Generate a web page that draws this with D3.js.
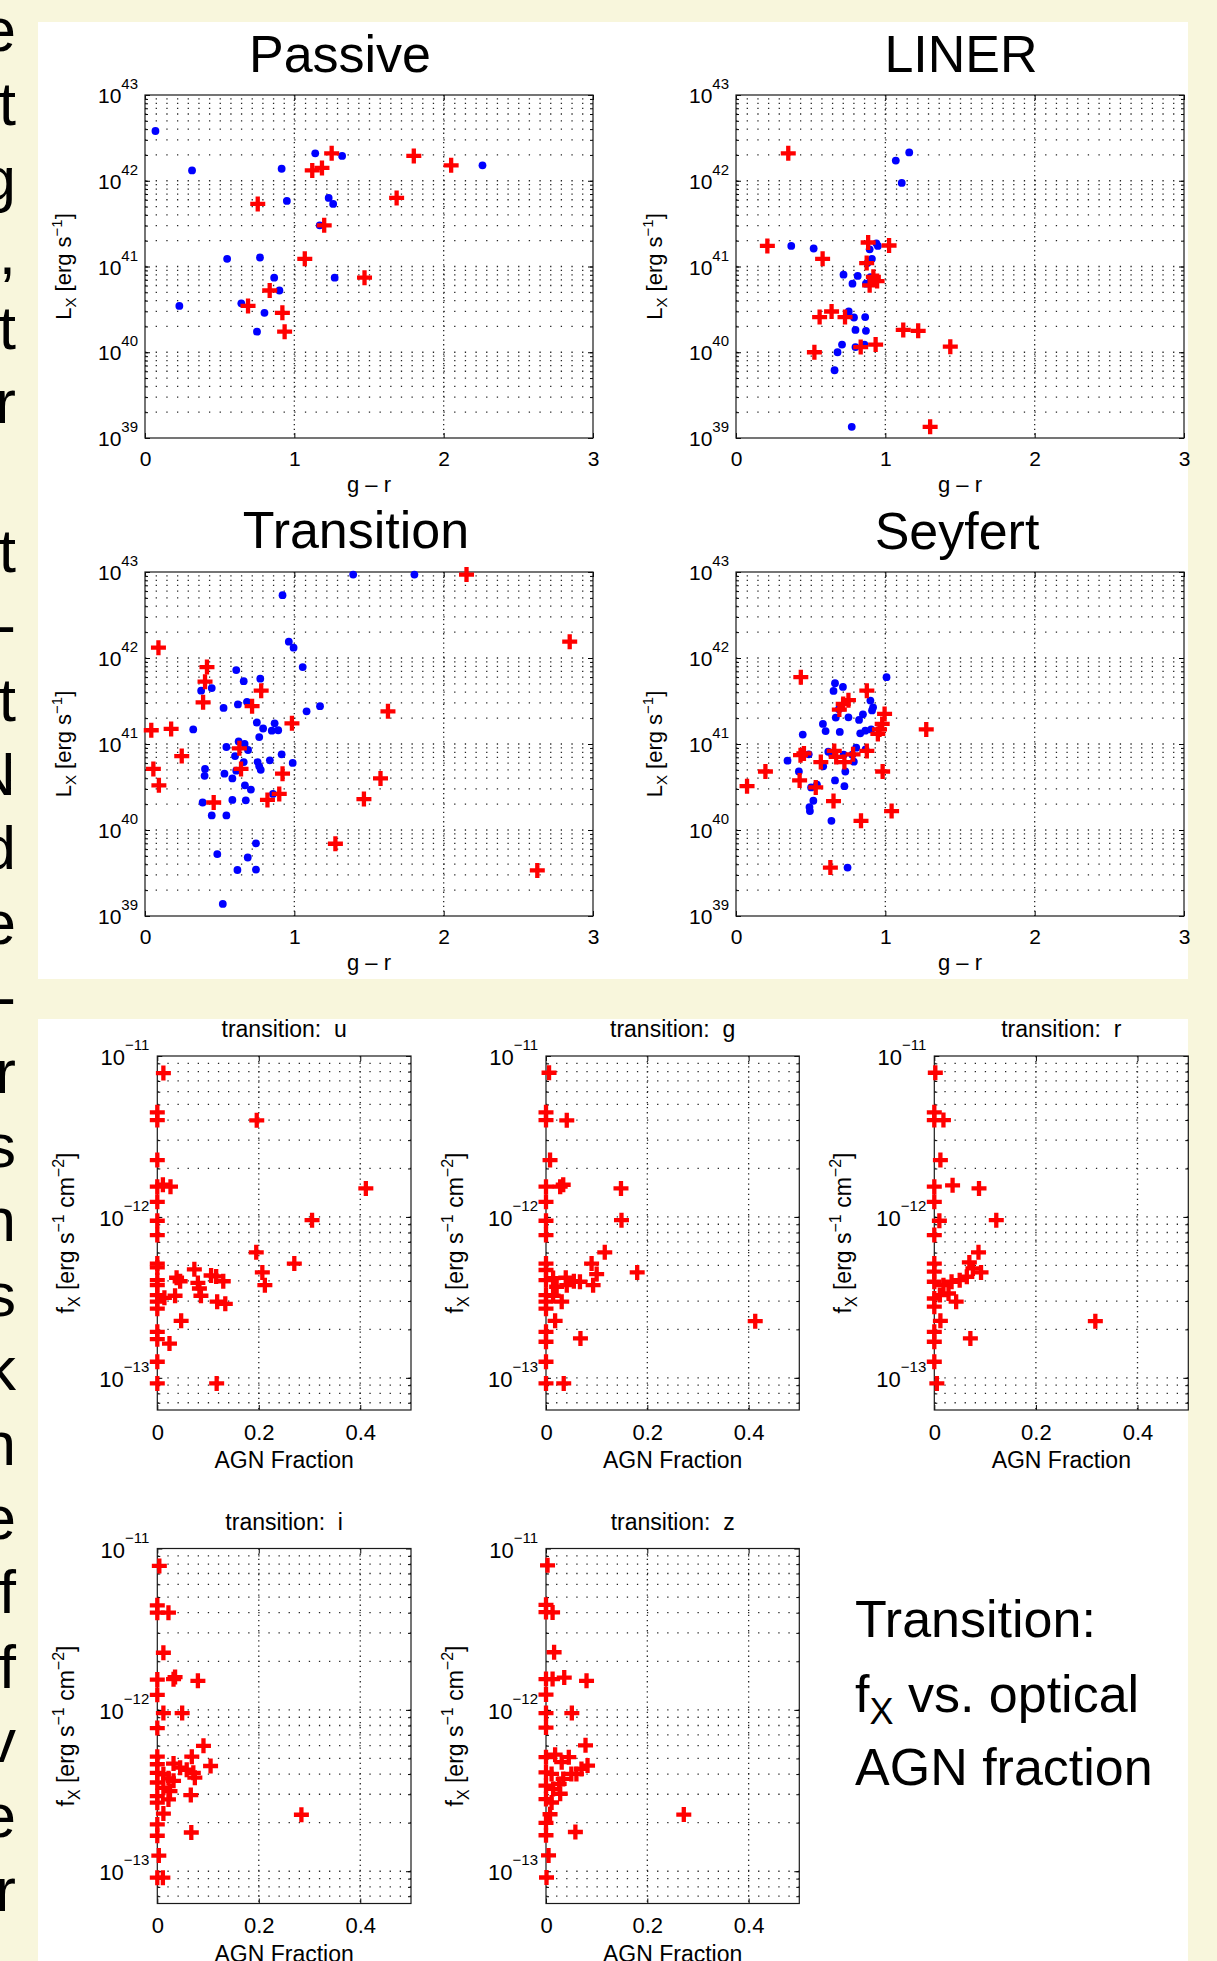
<!DOCTYPE html>
<html><head><meta charset="utf-8">
<script src="https://cdn.jsdelivr.net/npm/d3@7"></script>
<style>
html,body{margin:0;padding:0;background:#f8f6dc;}
svg{display:block;}
text{font-family:"Liberation Sans",Arial,Helvetica,sans-serif;fill:#000;}
</style></head><body><svg id="c" width="1217" height="1961"></svg>
<script>
// ---------------- DATA ----------------
// top panels: [g - r colour, log10 L_X (erg/s)]
const passiveBlue = [[0.07,42.58],[0.315,42.12],[0.915,42.14],[1.14,42.32],[1.32,42.29],[2.26,42.18],[0.95,41.765],[1.23,41.80],[1.26,41.73],[1.17,41.48],[0.55,41.09],[0.77,41.105],[0.865,40.87],[1.27,40.87],[0.90,40.72],[0.23,40.54],[0.645,40.57],[0.80,40.46],[0.75,40.24]];
const passiveRed = [[1.25,42.32],[1.12,42.12],[1.185,42.15],[1.80,42.29],[2.05,42.18],[0.755,41.73],[1.685,41.80],[1.20,41.48],[1.07,41.09],[1.47,40.87],[0.835,40.72],[0.69,40.54],[0.92,40.46],[0.935,40.24]];
const linerBlue = [[1.16,42.33],[1.07,42.235],[1.11,41.975],[0.37,41.24],[0.52,41.21],[0.94,41.27],[0.95,41.24],[0.895,41.20],[0.91,41.09],[0.88,41.04],[0.72,40.905],[0.815,40.89],[0.90,40.875],[0.78,40.80],[0.87,40.80],[0.755,40.475],[0.79,40.405],[0.865,40.41],[0.80,40.26],[0.87,40.25],[0.71,40.09],[0.86,40.09],[0.80,40.06],[0.68,40.00],[0.66,39.79],[0.775,39.13]];
const linerRed = [[0.35,42.32],[0.21,41.24],[0.885,41.28],[1.025,41.245],[0.58,41.09],[0.875,41.04],[0.92,40.88],[0.945,40.83],[0.895,40.78],[0.64,40.475],[0.56,40.41],[0.73,40.41],[1.12,40.26],[1.22,40.25],[0.835,40.06],[0.935,40.09],[0.525,40.00],[1.435,40.065],[1.30,39.13]];
const transBlue = [[1.394,42.97],[1.804,42.97],[0.921,42.73],[0.963,42.19],[0.995,42.12],[1.056,41.895],[0.611,41.86],[0.661,41.73],[0.772,41.76],[0.376,41.62],[0.447,41.65],[0.622,41.46],[0.683,41.49],[0.526,41.42],[1.082,41.38],[1.172,41.44],[0.749,41.25],[0.868,41.24],[0.791,41.18],[0.849,41.155],[0.892,41.16],[0.323,41.17],[0.765,41.08],[0.545,40.965],[0.627,41.03],[0.667,41.00],[0.69,40.93],[0.603,40.86],[0.915,40.88],[0.661,40.79],[0.754,40.79],[0.836,40.81],[0.989,40.78],[0.765,40.74],[0.775,40.70],[0.402,40.71],[0.399,40.63],[0.532,40.655],[0.611,40.69],[0.585,40.60],[0.669,40.52],[0.709,40.47],[0.386,40.32],[0.585,40.35],[0.675,40.345],[0.857,40.42],[0.447,40.17],[0.545,40.17],[0.743,39.845],[0.484,39.72],[0.688,39.68],[0.619,39.535],[0.743,39.54],[0.521,39.14]];
const transRed = [[2.153,42.97],[2.844,42.19],[0.09,42.12],[0.415,41.895],[0.402,41.725],[0.778,41.62],[0.389,41.485],[0.717,41.44],[1.627,41.38],[0.984,41.24],[0.042,41.16],[0.175,41.175],[0.632,40.95],[0.246,40.86],[0.056,40.71],[0.643,40.71],[0.921,40.655],[0.093,40.52],[1.577,40.60],[0.899,40.42],[0.82,40.35],[0.46,40.32],[1.466,40.36],[1.275,39.84],[2.627,39.53]];
const seyBlue = [[1.008,41.777],[0.663,41.707],[0.716,41.664],[0.653,41.617],[0.9,41.505],[0.689,41.404],[0.918,41.427],[0.911,41.39],[0.85,41.345],[0.668,41.307],[0.753,41.31],[0.824,41.28],[0.582,41.233],[0.6,41.15],[0.695,41.14],[0.905,41.17],[0.866,41.155],[0.832,41.124],[0.447,41.11],[0.805,40.957],[0.868,40.938],[0.618,40.91],[0.487,40.88],[0.721,40.876],[0.779,40.876],[0.645,40.87],[0.345,40.806],[0.789,40.794],[0.584,40.74],[0.421,40.68],[0.732,40.68],[0.663,40.577],[0.542,40.526],[0.503,40.495],[0.726,40.51],[0.518,40.34],[0.492,40.266],[0.495,40.22],[0.639,40.107],[0.747,39.563]];
const seyRed = [[0.434,41.777],[0.876,41.62],[0.753,41.51],[0.718,41.466],[0.692,41.40],[0.995,41.35],[0.979,41.233],[0.961,41.17],[0.95,41.117],[1.274,41.17],[0.658,40.92],[0.876,40.92],[0.432,40.87],[0.455,40.89],[0.784,40.88],[0.671,40.85],[0.568,40.79],[0.726,40.79],[0.197,40.68],[0.982,40.68],[0.426,40.577],[0.534,40.495],[0.074,40.51],[0.653,40.336],[0.837,40.107],[1.042,40.22],[0.632,39.563]];

// bottom panels: [AGN fraction, log10 f_X (erg/s/cm2)]
const bandU = [[0.012,-11.106],[0,-11.35],[0,-11.398],[0.196,-11.40],[0,-11.647],[0,-11.812],[0.011,-11.80],[0.026,-11.812],[0.411,-11.823],[0,-11.906],[0,-12.024],[0.305,-12.02],[0,-12.113],[0.195,-12.22],[0.27,-12.29],[0,-12.29],[0,-12.314],[0.073,-12.326],[0.207,-12.345],[0.038,-12.378],[0.045,-12.40],[0.106,-12.364],[0.116,-12.37],[0.13,-12.40],[0.08,-12.41],[0,-12.393],[0,-12.424],[0.212,-12.424],[0.083,-12.445],[0,-12.486],[0.014,-12.503],[0.035,-12.49],[0.086,-12.49],[0.118,-12.527],[0.134,-12.54],[0,-12.527],[0,-12.57],[0.047,-12.646],[0,-12.714],[0,-12.76],[0.024,-12.787],[0,-12.90],[0,-13.035],[0.117,-13.035]];
const bandG = [[0.006,-11.104],[0,-11.35],[0,-11.398],[0.041,-11.40],[0.008,-11.647],[0,-11.812],[0.028,-11.812],[0.034,-11.80],[0.148,-11.823],[0,-11.906],[0,-12.024],[0.149,-12.02],[0,-12.113],[0.116,-12.22],[0.09,-12.29],[0,-12.29],[0,-12.33],[0.10,-12.355],[0.18,-12.345],[0.014,-12.38],[0.039,-12.378],[0.055,-12.40],[0.067,-12.403],[0,-12.393],[0.021,-12.434],[0.041,-12.424],[0.093,-12.424],[0,-12.486],[0.014,-12.49],[0.031,-12.527],[0,-12.527],[0,-12.57],[0.018,-12.646],[0.413,-12.648],[0,-12.714],[0,-12.776],[0.068,-12.755],[0,-12.90],[0,-13.035],[0.035,-13.035]];
const bandR = [[0.002,-11.104],[0,-11.35],[0,-11.398],[0.018,-11.398],[0.012,-11.647],[0,-11.812],[0.036,-11.804],[0.088,-11.823],[0,-11.906],[0.01,-12.024],[0.122,-12.02],[0,-12.113],[0.087,-12.22],[0.069,-12.283],[0,-12.29],[0,-12.34],[0.076,-12.32],[0.092,-12.345],[0.064,-12.372],[0.05,-12.393],[0.034,-12.403],[0.018,-12.424],[0,-12.403],[0.011,-12.486],[0,-12.507],[0.028,-12.476],[0.043,-12.527],[0,-12.558],[0.012,-12.646],[0.317,-12.648],[0,-12.714],[0,-12.776],[0.071,-12.755],[0,-12.90],[0.005,-13.035]];
const bandI = [[0.004,-11.108],[0,-11.352],[0,-11.398],[0.022,-11.398],[0.012,-11.646],[0,-11.812],[0.032,-11.81],[0.035,-11.797],[0.08,-11.82],[0,-11.907],[0.012,-12.02],[0.049,-12.02],[0,-12.113],[0.091,-12.223],[0.068,-12.29],[0,-12.29],[0,-12.337],[0.105,-12.348],[0.032,-12.333],[0.045,-12.358],[0.058,-12.371],[0.071,-12.39],[0.074,-12.42],[0.012,-12.399],[0,-12.39],[0.022,-12.424],[0.032,-12.44],[0,-12.45],[0.012,-12.483],[0.025,-12.503],[0,-12.534],[0.066,-12.528],[0.022,-12.555],[0,-12.575],[0.012,-12.643],[0.284,-12.65],[0,-12.71],[0,-12.78],[0.067,-12.76],[0.003,-12.903],[0,-13.04],[0.011,-13.04]];
const bandZ = [[0.003,-11.104],[0,-11.349],[0,-11.394],[0.013,-11.396],[0.016,-11.643],[0,-11.809],[0.013,-11.809],[0.036,-11.80],[0.08,-11.82],[0,-11.905],[0.051,-12.02],[0,-12.02],[0,-12.11],[0.078,-12.22],[0,-12.293],[0.018,-12.278],[0.045,-12.293],[0.031,-12.324],[0.082,-12.345],[0.07,-12.366],[0.06,-12.397],[0.05,-12.397],[0,-12.387],[0.011,-12.397],[0.034,-12.428],[0.026,-12.459],[0,-12.47],[0.014,-12.49],[0.028,-12.52],[0,-12.553],[0.011,-12.574],[0.008,-12.647],[0.272,-12.649],[0,-12.70],[0,-12.777],[0.058,-12.757],[0.005,-12.902],[0.001,-13.039]];

// axis tick values / labels
const topXTicks = [0,1,2,3];
const topYDecades = [39,40,41,42,43];
const botXTicks = [0,0.2,0.4];
const botYDecades = [-13,-12,-11];
const topTitles = ["Passive","LINER","Transition","Seyfert"];
const botTitles = ["transition:  u","transition:  g","transition:  r","transition:  i","transition:  z"];
const sideLetters = ["e","t","g",",","t","r","","t","-","t","N","d","e","-","r","s","n","s","k","n","e","f","f","v","e","r"];
const noteLines = ["Transition:","vs. optical","AGN fraction"];

// ---------------- DRAW ----------------
const svg = d3.select("#c");
svg.append("rect").attr("width",1217).attr("height",1961).attr("fill","#f8f6dc");

// slide text cropped by the left edge of the picture
const sideLine = d3.scaleLinear().domain([0,1]).range([51,125.4]);
sideLetters.forEach((c,i)=>{
  if(!c) return;
  svg.append("text").attr("x",16).attr("y",sideLine(i)).attr("text-anchor","end")
    .attr("font-size",62).text(c);
});

svg.append("rect").attr("x",38).attr("y",22).attr("width",1150).attr("height",957).attr("fill","#fff");
svg.append("rect").attr("x",38).attr("y",1019).attr("width",1150).attr("height",942).attr("fill","#fff");

function plus(sel, x, y, s){
  sel.append("path").attr("d",`M${x-s},${y}H${x+s}M${x},${y-s}V${y+s}`)
    .attr("stroke","#ff0000").attr("stroke-width",4.3).attr("fill","none");
}

function panel(o){
  const g = svg.append("g").attr("transform",`translate(${o.bx},${o.by})`);
  const x = d3.scaleLinear().domain(o.xDom).range([0,o.bw]);
  const y = d3.scaleLog().domain([Math.pow(10,o.yMin),Math.pow(10,o.yMax)]).range([o.bh,0]);
  const minors=[];
  for(let k=Math.floor(o.yMin);k<Math.ceil(o.yMax);k++){
    for(let m=1;m<=9;m++){
      const v=m*Math.pow(10,k);
      const lv=Math.log10(v);
      if(lv>o.yMin+1e-6 && lv<o.yMax-1e-6) minors.push(v);
    }
  }
  const decadeVals = o.decades.map(d=>Math.pow(10,d));
  // dotted grid
  const grid = g.append("g").attr("stroke","#000").attr("stroke-width",1.3).attr("fill","none").attr("opacity",0.85);
  minors.forEach(v=>{
    grid.append("line").attr("x1",0).attr("x2",o.bw).attr("y1",y(v)).attr("y2",y(v))
      .attr("stroke-dasharray",o.hDash);
  });
  o.xGrid.forEach(v=>{
    grid.append("line").attr("x1",x(v)).attr("x2",x(v)).attr("y1",0).attr("y2",o.bh)
      .attr("stroke-dasharray",o.vDash);
  });
  // axes with inward ticks
  const ax = g.append("g").attr("transform",`translate(0,${o.bh})`)
    .call(d3.axisBottom(x).tickValues(o.xTicks).tickSizeInner(-5).tickSizeOuter(0).tickPadding(o.xPad).tickFormat(o.xFmt));
  ax.attr("font-size",o.tickFs).attr("font-family",null);
  g.append("g").call(d3.axisTop(x).tickValues(o.xTicks).tickSizeInner(-5).tickSizeOuter(0).tickFormat(""));
  g.append("g").call(d3.axisLeft(y).tickValues(decadeVals).tickSizeInner(-5).tickSizeOuter(0).tickFormat(""));
  g.append("g").call(d3.axisLeft(y).tickValues(minors).tickSizeInner(-3).tickSizeOuter(0).tickFormat(""));
  g.append("g").attr("transform",`translate(${o.bw},0)`).call(d3.axisRight(y).tickValues(decadeVals).tickSizeInner(-5).tickSizeOuter(0).tickFormat(""));
  g.append("g").attr("transform",`translate(${o.bw},0)`).call(d3.axisRight(y).tickValues(minors).tickSizeInner(-3).tickSizeOuter(0).tickFormat(""));
  g.selectAll(".domain").remove();
  g.selectAll(".tick line").attr("stroke","#000").attr("stroke-width",1);
  g.selectAll(".tick text").attr("fill","#000");
  // y tick labels 10^k
  o.decades.forEach(d=>{
    const t = g.append("text").attr("x",-o.yLabGap).attr("y",y(Math.pow(10,d))+o.tenOff)
      .attr("text-anchor","end");
    t.append("tspan").attr("font-size",o.tickFs).text("10");
    t.append("tspan").attr("font-size",o.supFs).attr("dy",-o.supRise)
      .text(d<0 ? "\u2212"+(-d) : String(d));
  });
  g.append("rect").attr("width",o.bw).attr("height",o.bh).attr("fill","none")
    .attr("stroke","#1a1a1a").attr("stroke-width",1.2);
  if(o.blue){
    g.append("g").selectAll("circle").data(o.blue).join("circle")
      .attr("cx",d=>x(d[0])).attr("cy",d=>y(Math.pow(10,d[1]))).attr("r",3.9).attr("fill","#0000ff");
  }
  const rg = g.append("g");
  o.red.forEach(d=>plus(rg, x(d[0]), y(Math.pow(10,d[1])), 7.5));
  svg.append("text").attr("x",o.tx).attr("y",o.ty).attr("text-anchor","middle")
    .attr("font-size",o.titleFs).style("white-space","pre").text(o.title);
  svg.append("text").attr("x",o.bx+o.bw/2).attr("y",o.by+o.bh+o.xLabOff).attr("text-anchor","middle")
    .attr("font-size",o.labFs).text(o.xLabel);
  const yl = svg.append("text").attr("transform",`translate(${o.bx-o.yLabOff},${o.by+o.bh/2}) rotate(-90)`)
    .attr("text-anchor","middle").attr("font-size",o.labFs);
  o.yLabel(yl);
}

function topYLabel(t){
  t.append("tspan").text("L");
  t.append("tspan").attr("font-size",15).attr("dy",5).text("X");
  t.append("tspan").attr("dy",-5).text(" [erg s");
  t.append("tspan").attr("font-size",15).attr("dy",-9).text("\u22121");
  t.append("tspan").attr("dy",9).text("]");
}
function botYLabel(t){
  t.append("tspan").text("f");
  t.append("tspan").attr("font-size",16).attr("dy",6).text("X");
  t.append("tspan").attr("dy",-6).text(" [erg s");
  t.append("tspan").attr("font-size",16).attr("dy",-10).text("\u22121");
  t.append("tspan").attr("dy",10).text(" cm");
  t.append("tspan").attr("font-size",16).attr("dy",-10).text("\u22122");
  t.append("tspan").attr("dy",10).text("]");
}

const topCommon = {xDom:[0,3], yMin:39, yMax:43, decades:topYDecades, xTicks:topXTicks, xGrid:[1,2],
  hDash:"1.3,9.36", vDash:"1.3,3.4", xFmt:d3.format("d"), xPad:13, tickFs:21, supFs:15, supRise:14,
  tenOff:8, yLabGap:7, titleFs:52, labFs:22, xLabel:"g \u2013 r", xLabOff:54, yLabOff:74, yLabel:topYLabel};
const topLayout = [
  {bx:145,by:95,bw:448,bh:343,tx:340,ty:72},
  {bx:736,by:95,bw:448,bh:343,tx:961,ty:72},
  {bx:145,by:572,bw:448,bh:344,tx:356,ty:548},
  {bx:736,by:572,bw:448,bh:344,tx:957,ty:549}
];
const topData = [[passiveBlue,passiveRed],[linerBlue,linerRed],[transBlue,transRed],[seyBlue,seyRed]];
topLayout.forEach((L,i)=>panel(Object.assign({},topCommon,L,{title:topTitles[i],blue:topData[i][0],red:topData[i][1]})));

const botCommon = {xDom:[0,0.5], yMin:-13.2, yMax:-11, decades:botYDecades, xTicks:botXTicks, xGrid:[0.2,0.4],
  hDash:"1.3,8.8", vDash:"1.3,3.8", xFmt:d=>d===0?"0":d3.format(".1f")(d), xPad:14, tickFs:22, supFs:15, supRise:15,
  tenOff:9, yLabGap:8, titleFs:23, labFs:23, xLabel:"AGN Fraction", xLabOff:58, yLabOff:83, yLabel:botYLabel};
const botLayout = [
  {bx:157.3,by:1056,bw:253.7,bh:354},
  {bx:546,by:1056,bw:253.3,bh:354},
  {bx:934.3,by:1056,bw:254,bh:354},
  {bx:157.3,by:1548.5,bw:253.7,bh:355},
  {bx:546,by:1548.5,bw:253.3,bh:355}
];
const botData = [bandU,bandG,bandR,bandI,bandZ];
botLayout.forEach((L,i)=>panel(Object.assign({},botCommon,L,{tx:L.bx+L.bw/2,ty:L.by-19,title:botTitles[i],red:botData[i]})));

// note text
const note = svg.append("g").attr("font-size",52);
note.append("text").attr("x",855).attr("y",1637).text(noteLines[0]);
const l2 = note.append("text").attr("x",855).attr("y",1712);
l2.append("tspan").text("f");
l2.append("tspan").attr("font-size",36).attr("dy",12).text("X");
l2.append("tspan").attr("dy",-12).text(" "+noteLines[1]);
note.append("text").attr("x",855).attr("y",1785).text(noteLines[2]);
</script></body></html>
